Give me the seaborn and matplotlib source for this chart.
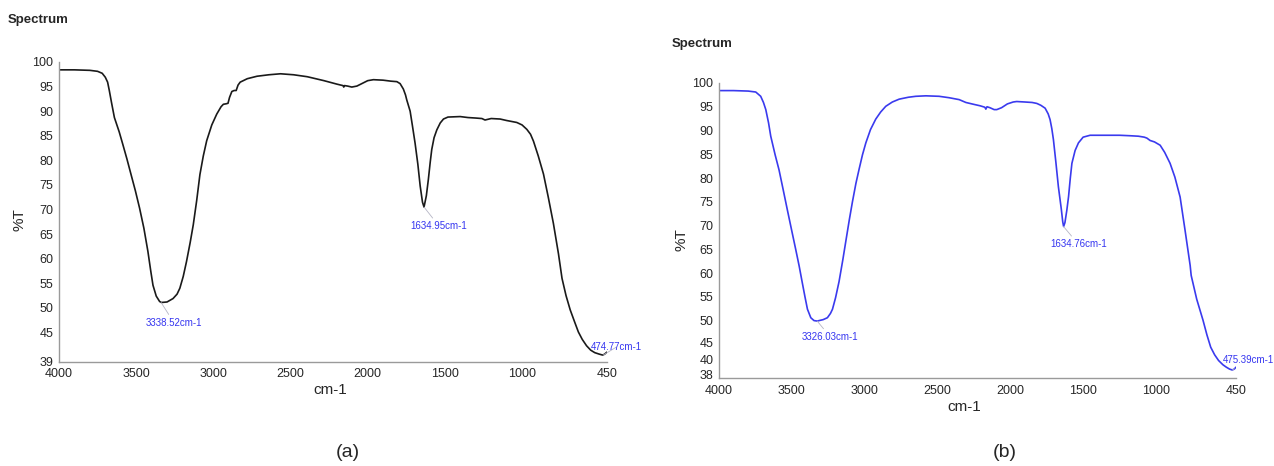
import matplotlib
matplotlib.use("Agg")
import matplotlib.pyplot as plt
import matplotlib.transforms as mtransforms
import seaborn as sns
import pandas as pd

sns.set_style("white")
plt.rcParams["font.family"] = ["Liberation Sans Narrow", "Liberation Sans", "DejaVu Sans"]

# spectrum (a) - wavenumber (cm-1) and %T
wn_a = [4000, 3900, 3800, 3750, 3720, 3700, 3685, 3674, 3660, 3641, 3610, 3587, 3560, 3533, 3505, 3478,
        3450, 3424, 3405, 3391, 3370, 3348, 3337, 3300, 3261, 3235, 3217, 3195, 3174, 3150,
        3130, 3108, 3087, 3065, 3043, 3010, 2978, 2950, 2935, 2917, 2905, 2895, 2880, 2865,
        2852, 2840, 2826, 2780, 2717, 2640, 2565, 2480, 2391, 2283, 2200, 2174, 2160, 2155,
        2150, 2130, 2103, 2070, 2038, 2000, 1963, 1900, 1850, 1811, 1790, 1769, 1755, 1747,
        1725, 1710, 1693, 1675, 1660, 1645, 1635, 1620, 1607, 1595, 1585, 1570, 1552, 1530,
        1509, 1480, 1401, 1350, 1300, 1260, 1240, 1200, 1142, 1100, 1034, 1000, 969, 945,
        926, 895, 861, 830, 797, 764, 741, 715, 688, 660, 635, 610, 582, 555, 529, 500,
        477, 465, 450]
t_a = [98.4, 98.4, 98.3, 98.1, 97.7, 96.9, 95.9, 94.2, 91.8, 88.7, 85.8, 83.3, 80.3, 77.1, 73.8, 70.3,
       66.2, 61.5, 57.4, 54.6, 52.4, 51.3, 51.1, 51.2, 51.9, 52.8, 54.0, 56.4, 59.4, 63.3,
       66.9, 71.8, 77.1, 80.9, 84.0, 87.2, 89.4, 90.9, 91.4, 91.5, 91.6, 92.8, 94.0, 94.2,
       94.2, 95.3, 95.9, 96.6, 97.1, 97.4, 97.6, 97.4, 97.0, 96.2, 95.5, 95.3, 95.2, 94.9,
       95.2, 95.1, 94.9, 95.1, 95.6, 96.2, 96.4, 96.3, 96.1, 96.0, 95.6, 94.5, 93.3, 92.3,
       90.0, 87.0, 83.5, 79.2, 74.8, 71.5, 70.5, 72.8, 76.1, 79.6, 82.2, 84.6, 86.2, 87.6,
       88.4, 88.8, 88.9, 88.7, 88.6, 88.5, 88.2, 88.5, 88.4, 88.1, 87.7, 87.2, 86.3, 85.3,
       83.9, 80.9, 77.2, 72.5, 67.2, 61.0, 56.0, 52.5, 49.6, 47.2, 45.1, 43.6, 42.3, 41.4,
       40.9, 40.6, 40.4, 40.6, 41.0]

# spectrum (b)
wn_b = [4000, 3900, 3800, 3748, 3714, 3695, 3679, 3660, 3645, 3615, 3588, 3560, 3531, 3500, 3473,
        3450, 3428, 3410, 3393, 3370, 3348, 3326, 3313, 3285, 3256, 3235, 3221, 3200, 3176,
        3150, 3130, 3105, 3084, 3060, 3038, 3015, 2992, 2960, 2924, 2890, 2855, 2810, 2763,
        2700, 2649, 2580, 2489, 2420, 2351, 2305, 2250, 2207, 2175, 2168, 2160, 2140, 2111,
        2093, 2060, 2020, 1980, 1956, 1900, 1850, 1818, 1790, 1761, 1740, 1727, 1715, 1704,
        1687, 1670, 1650, 1640, 1634, 1625, 1612, 1600, 1588, 1577, 1555, 1532, 1500, 1452,
        1350, 1250, 1177, 1120, 1080, 1062, 1040, 1010, 971, 940, 903, 870, 834, 800, 765,
        758, 720, 677, 650, 624, 597, 570, 540, 517, 495, 476, 462, 450]
t_b = [98.4, 98.4, 98.3, 98.1, 97.2, 95.9, 94.4, 91.6, 88.8, 84.9, 81.7, 77.6, 73.3, 68.8, 64.9,
       61.5, 57.9, 55.0, 52.4, 50.6, 50.0, 49.9, 50.0, 50.2, 50.6, 51.5, 52.4, 54.8, 58.2,
       62.8, 66.6, 71.3, 75.0, 78.9, 81.9, 84.9, 87.4, 90.2, 92.4, 93.9, 95.1, 96.0, 96.6,
       97.0, 97.2, 97.3, 97.2, 96.9, 96.5, 95.9, 95.5, 95.2, 94.9, 94.5, 95.0, 94.8, 94.4,
       94.4, 94.8, 95.6, 96.0, 96.1, 96.0, 95.9, 95.7, 95.3, 94.7, 93.5, 92.3, 90.4, 88.1,
       83.3, 78.2, 73.5, 70.8, 69.8, 70.6, 73.2, 76.1, 80.0, 83.1, 85.8, 87.4, 88.6, 89.0,
       89.0, 89.0, 88.9, 88.8, 88.6, 88.4, 87.9, 87.6, 86.9, 85.4, 83.1, 80.2, 76.0, 69.0, 61.6,
       59.5, 54.5, 50.1, 47.0, 44.4, 42.8, 41.6, 40.7, 40.2, 39.8, 39.6, 39.8, 40.2]

# peak labels: (peak x, peak y, text x, text y, text, align)
peaks_a = [(3338.52, 51.1, 3255, 48.0, "3338.52cm-1", "center"),
           (1634.95, 70.5, 1537, 67.6, "1634.95cm-1", "center"),
           (474.77, 40.4, 556, 42.0, "474.77cm-1", "left")]
peaks_b = [(3326.03, 49.9, 3236, 47.6, "3326.03cm-1", "center"),
           (1634.76, 69.8, 1532, 67.1, "1634.76cm-1", "center"),
           (475.39, 39.6, 543, 41.6, "475.39cm-1", "left")]

df_a = pd.DataFrame({"wn": wn_a, "T": t_a})
df_b = pd.DataFrame({"wn": wn_b, "T": t_b})

fig = plt.figure(figsize=(12.74, 4.66), dpi=100)
ax_a = fig.add_axes([0.0463, 0.2232, 0.4301, 0.6438])
ax_b = fig.add_axes([0.5644, 0.1897, 0.4058, 0.6322])

label_blue = "#3535f0"


def draw_panel(ax, df, color, ymin, yticks, peaks):
    sns.lineplot(data=df, x="wn", y="T", ax=ax, color=color, lw=1.2,
                 estimator=None, sort=False)
    ax.set_xlim(4000, 450)
    ax.set_ylim(ymin, 100)
    ax.set_xticks([4000, 3500, 3000, 2500, 2000, 1500, 1000, 450])
    ax.set_xticks([500], minor=True)
    ax.set_yticks(yticks)
    ax.set_yticklabels([str(v) for v in yticks])
    ax.tick_params(axis="both", which="both", direction="out", length=3, width=0.8,
                   color="#9a9a9a", labelsize=9, pad=1)
    ax.tick_params(axis="x", which="minor", length=3)
    for side in ["top", "right"]:
        ax.spines[side].set_visible(False)
    for side in ["left", "bottom"]:
        ax.spines[side].set_color("#9a9a9a")
        ax.spines[side].set_linewidth(1.0)
    ax.set_xlabel("")
    ax.set_ylabel("")
    for px, py, tx, ty, txt, ha in peaks:
        ax.annotate(txt, xy=(px, py), xytext=(tx, ty), ha=ha,
                    va="top" if ha == "center" else "center",
                    fontsize=7, color=label_blue, annotation_clip=False,
                    arrowprops=dict(arrowstyle="-", color="#b5b5c5", lw=0.6,
                                    shrinkA=0, shrinkB=0))


draw_panel(ax_a, df_a, "#1a1a1a", 39, [100, 95, 90, 85, 80, 75, 70, 65, 60, 55, 50, 45, 39], peaks_a)
draw_panel(ax_b, df_b, "#3a3aee", 38, [100, 95, 90, 85, 80, 75, 70, 65, 60, 55, 50, 45, 40, 38], peaks_b)
ax_b.tick_params(axis="x", which="major", pad=2)

# the crowded low labels of panel (b) sit a little apart, as in the source plot
fig.canvas.draw()
for lab in ax_b.get_yticklabels():
    if lab.get_text() == "40":
        lab.set_transform(lab.get_transform() + mtransforms.ScaledTranslation(0, 6 / 72, fig.dpi_scale_trans))
    elif lab.get_text() == "38":
        lab.set_transform(lab.get_transform() + mtransforms.ScaledTranslation(0, 2 / 72, fig.dpi_scale_trans))
    elif lab.get_text() == "45":
        lab.set_transform(lab.get_transform() + mtransforms.ScaledTranslation(0, 1 / 72, fig.dpi_scale_trans))

sans = ["Liberation Sans", "DejaVu Sans"]
fig.text(0.0063, 0.957, "Spectrum", fontsize=9.5, fontweight="bold", family=sans, va="center")
fig.text(0.527, 0.906, "Spectrum", fontsize=9.5, fontweight="bold", family=sans, va="center")
fig.text(0.259, 0.163, "cm-1", fontsize=11, family=sans, ha="center", va="center")
fig.text(0.757, 0.127, "cm-1", fontsize=11, family=sans, ha="center", va="center")
fig.text(0.015, 0.528, "%T", fontsize=11, family=sans, rotation=90, ha="center", va="center")
fig.text(0.535, 0.485, "%T", fontsize=11, family=sans, rotation=90, ha="center", va="center")
fig.text(0.273, 0.030, "(a)", fontsize=14, family=sans, ha="center", va="center")
fig.text(0.789, 0.030, "(b)", fontsize=14, family=sans, ha="center", va="center")

fig.savefig("out.png", dpi=100)
